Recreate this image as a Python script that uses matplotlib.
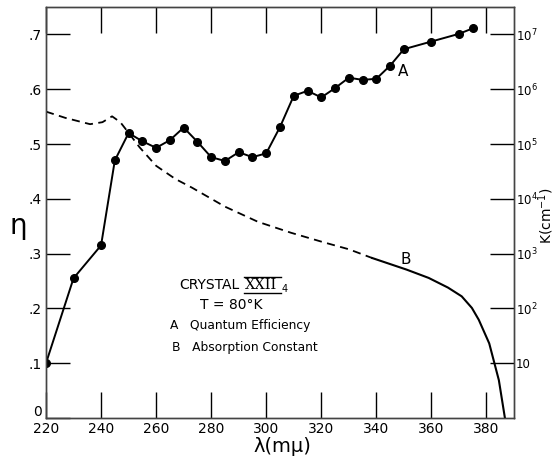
import numpy as np
import matplotlib
matplotlib.use("Agg")
import matplotlib.pyplot as plt
from matplotlib.lines import Line2D

plt.rcParams['font.family'] = ['DejaVu Sans']
plt.rcParams['mathtext.default'] = 'regular'

# curve A: quantum efficiency (measured points)
wl_a = [220, 230, 240, 245, 250, 255, 260, 265, 270, 275, 280, 285, 290, 295,
        300, 305, 310, 315, 320, 325, 330, 335, 340, 345, 350, 360, 370, 375]
eta_a = [0.10, 0.255, 0.315, 0.47, 0.52, 0.505, 0.493, 0.507, 0.53, 0.504,
         0.476, 0.469, 0.485, 0.476, 0.483, 0.531, 0.588, 0.597, 0.585, 0.602,
         0.621, 0.617, 0.619, 0.643, 0.673, 0.687, 0.701, 0.711]

# curve B: absorption constant K (cm^-1), dashed part then solid part
wl_b_dash = [220, 227, 236, 240.5, 244, 247, 250, 254, 260, 267, 273, 285,
             297, 309, 321, 330, 338.5]
k_b_dash = [3.9e5, 3.0e5, 2.3e5, 2.5e5, 3.2e5, 2.5e5, 1.6e5, 8.7e4, 4.0e4,
            2.3e4, 1.6e4, 7.2e3, 3.8e3, 2.4e3, 1.6e3, 1.2e3, 830]
wl_b_solid = [338.5, 351, 359, 366, 371, 374.7, 377.2, 381, 384.5, 386.7]
k_b_solid = [830, 510, 360, 240, 166, 102, 62, 23, 4.9, 1.0]

x_ticks = [220, 240, 260, 280, 300, 320, 340, 360, 380]
eta_ticks = [0, .1, .2, .3, .4, .5, .6, .7]
eta_labels = ['', '.1', '.2', '.3', '.4', '.5', '.6', '.7']  # "0" placed by hand
k_ticks = [10, 1e2, 1e3, 1e4, 1e5, 1e6, 1e7]
k_labels = ['10', '$10^{2}$', '$10^{3}$', '$10^{4}$', '$10^{5}$', '$10^{6}$', '$10^{7}$']

fig = plt.figure(figsize=(5.56, 4.58), dpi=100)
ax = fig.add_axes([46/556, 1 - 418/458, (514 - 46)/556, (418 - 7)/458])
ax2 = ax.twinx()

ax.plot(wl_a, eta_a, color='black', lw=1.4, marker='o', ms=5.5, zorder=3)
ax2.plot(wl_b_dash, k_b_dash, color='black', lw=1.3, ls=(0, (4.5, 3)))
ax2.plot(wl_b_solid, k_b_solid, color='black', lw=1.5)

ax.set_xlim(220, 390)
ax.set_ylim(0, 0.75)
ax2.set_yscale('log')
ax2.set_ylim(1, 10**7.5)

ax.set_xticks(x_ticks)
ax.set_yticks(eta_ticks)
ax.set_yticklabels(eta_labels)
ax.tick_params(axis='x', direction='in', length=19, width=1, top=True,
               labelsize=10, pad=3)
ax.tick_params(axis='y', direction='in', length=17, width=1, labelsize=10, pad=3)
ax2.set_yticks(k_ticks)
ax2.set_yticklabels(k_labels)
ax2.yaxis.set_minor_locator(matplotlib.ticker.NullLocator())
ax2.tick_params(axis='y', direction='in', length=17, width=1, labelsize=8.5, pad=1.5)

for a in (ax, ax2):
    for s in a.spines.values():
        s.set_color('#444444')
        s.set_linewidth(1)

# labels
fig.text(38/556, 1 - 412/458, '0', fontsize=10, ha='center', va='center')
fig.text(18/556, 1 - 226/458, 'η', fontsize=20, ha='center', va='center')
fig.text(282/556, 1 - 446/458, 'λ(mμ)', fontsize=14, ha='center', va='center')
fig.text(546/556, 1 - 216/458, 'K(cm$^{-1}$)', fontsize=10, rotation=90,
         ha='center', va='center')

ax.text(349.7, 0.633, 'A', fontsize=11, ha='center', va='center')
ax.text(350.8, 0.289, 'B', fontsize=11, ha='center', va='center')

ax.text(268.5, 0.243, 'CRYSTAL', fontsize=10, ha='left', va='center')
ax.text(292.2, 0.243, 'XXII', fontsize=10.5, ha='left', va='center', family='DejaVu Serif')
ax.text(305.6, 0.236, '4', fontsize=7, ha='left', va='center')
for yy in (0.257, 0.229):
    ax.add_line(Line2D([292.0, 305.2], [yy, yy], color='black', lw=1))
ax.text(287.4, 0.207, 'T = 80°K', fontsize=10, ha='center', va='center')
ax.text(264.9, 0.168, 'A   Quantum Efficiency', fontsize=8.8, ha='left', va='center')
ax.text(265.7, 0.128, 'B   Absorption Constant', fontsize=8.8, ha='left', va='center')

fig.savefig('out.png', dpi=100)
